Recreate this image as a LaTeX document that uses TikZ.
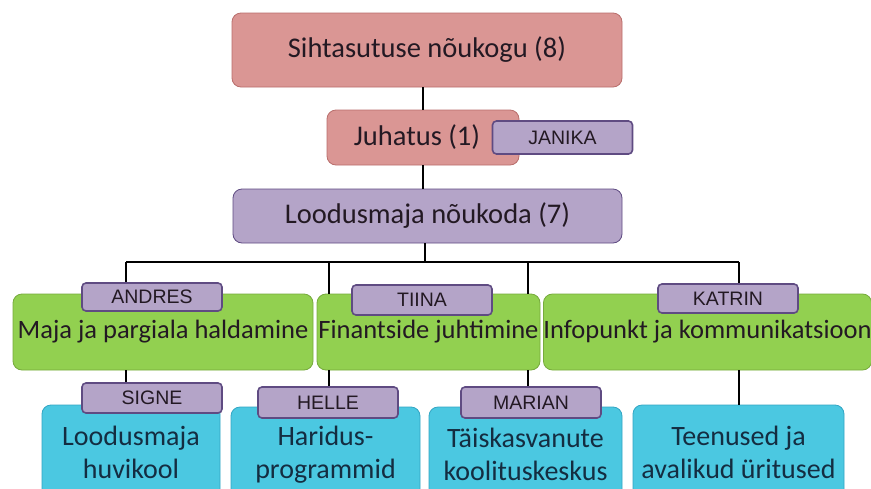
\documentclass[tikz,border=0pt]{standalone}
\usepackage{fontspec}
\setmainfont{Carlito}
\newfontfamily\labfont{Liberation Sans}
\definecolor{pinkf}{RGB}{218,150,148}
\definecolor{pinkd}{RGB}{185,110,108}
\definecolor{lavf}{RGB}{180,164,200}
\definecolor{lavd}{RGB}{95,75,130}
\definecolor{grnf}{RGB}{146,208,80}
\definecolor{grnd}{RGB}{118,170,60}
\definecolor{cyf}{RGB}{75,200,225}
\definecolor{cyd}{RGB}{50,165,195}
\definecolor{txt}{RGB}{35,25,35}
\definecolor{cytxt}{RGB}{20,45,65}
\begin{document}
\begin{tikzpicture}[x=1pt,y=-1pt,
  box/.style={rounded corners=9pt, inner sep=0pt, align=center, text=txt, line width=0.8pt},
  pinkbox/.style={box, fill=pinkf, draw=pinkd, font=\fontsize{28.5}{32}\selectfont},
  lavbox/.style={box, fill=lavf, draw=lavd, font=\fontsize{28.5}{32}\selectfont},
  grnbox/.style={box, fill=grnf, draw=grnd, minimum height=76pt, font=\fontsize{26.5}{30}\selectfont},
  cybox/.style={box, fill=cyf, draw=cyd, text=cytxt, minimum height=95pt, font=\fontsize{28}{33}\selectfont},
  namebox/.style={rounded corners=4pt, fill=lavf, draw=lavd, line width=1.6pt, minimum width=140pt, inner sep=0pt, text=txt, font=\labfont\fontsize{19.5}{21}\selectfont},
  conn/.style={line width=1.3pt, draw=black}]
\useasboundingbox (0,0) rectangle (871,488);
\clip (0,0) rectangle (871,488);
\fill[white] (0,0) rectangle (871,488);
% coordinates for bus
\coordinate (bus) at (425,262);
\coordinate (b1) at (126,262);
\coordinate (b2) at (329,262);
\coordinate (b3) at (528,262);
\coordinate (b4) at (739,262);
% main nodes
\node[pinkbox, minimum width=390pt, minimum height=74pt] (top) at (427,50) {Sihtasutuse nõukogu (8)};
\node[pinkbox, minimum width=192pt, minimum height=55pt] (juh) at (423,137.5) {Juhatus (1)\hspace{12pt}};
\node[lavbox, minimum width=389pt, minimum height=54pt] (nk) at (427.5,216) {Loodusmaja nõukoda (7)};
\node[grnbox, minimum width=300pt] (g1) at (163,332) {Maja ja pargiala haldamine};
\node[grnbox, minimum width=223pt] (g2) at (428.5,332) {Finantside juhtimine};
\node[grnbox, minimum width=325pt] (g3) at (707.5,332) {Infopunkt ja kommunikatsioon};
\node[cybox, minimum width=178pt] (c1) at (131,452.5) {Loodusmaja\\huvikool};
\node[cybox, minimum width=189pt] (c2) at (325.5,454.5) {Haridus-\\programmid};
\node[cybox, minimum width=193pt] (c3) at (525.5,454.5) {Täiskasvanute\\koolituskeskus};
\node[cybox, minimum width=211pt] (c4) at (738.5,452.5) {Teenused ja\\avalikud üritused};
% name labels
\node[namebox, minimum height=33pt] (janika) at (562.5,137.5) {JANIKA};
\node[namebox, minimum height=28pt] (andres) at (152,297) {ANDRES};
\node[namebox, minimum height=30pt] (tiina) at (422,300) {TIINA};
\node[namebox, minimum height=29pt] (katrin) at (728,298.5) {KATRIN};
\node[namebox, minimum height=30pt] (signe) at (152,398) {SIGNE};
\node[namebox, minimum height=31pt] (helle) at (328,402.5) {HELLE};
\node[namebox, minimum height=31pt] (marian) at (531,402.5) {MARIAN};
% connectors (only in the gaps between boxes)
\draw[conn] (top.south -| juh.north) -- (juh.north);
\draw[conn] (juh.south) -- (juh.south |- nk.north);
\draw[conn] (nk.south -| bus) -- (bus);
\draw[conn] (b1) -- (b4);
\draw[conn] (b1) -- (b1 |- andres.north);
\draw[conn] (b2) -- (b2 |- g2.north);
\draw[conn] (b3) -- (b3 |- g2.north);
\draw[conn] (b4) -- (b4 |- katrin.north);
\draw[conn] (g1.south -| b1) -- (b1 |- signe.north);
\draw[conn] (g2.south -| b2) -- (b2 |- helle.north);
\draw[conn] (g2.south -| b3) -- (b3 |- marian.north);
\draw[conn] (g3.south -| b4) -- (b4 |- c4.north);
\end{tikzpicture}
\end{document}
